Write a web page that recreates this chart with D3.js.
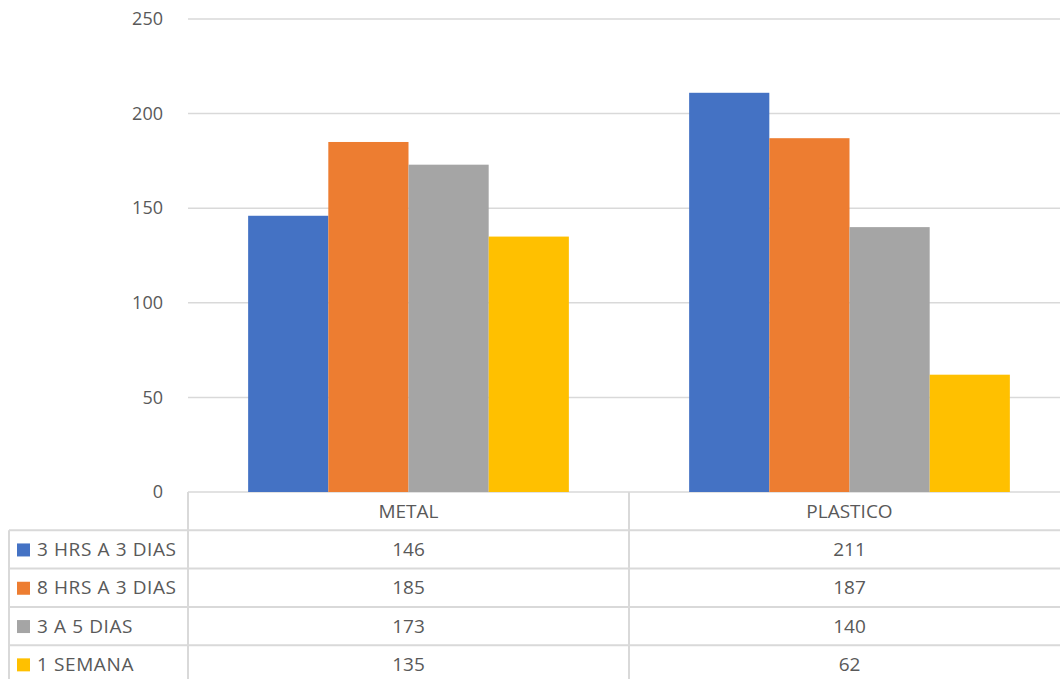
<!DOCTYPE html>
<html>
<head>
<meta charset="utf-8">
<script src="https://cdn.jsdelivr.net/npm/d3@7"></script>
<style>
body { margin: 0; background: #fff; }
text { font-family: "Open Sans", sans-serif; fill: #595959; }
</style>
</head>
<body>
<div id="chart"></div>
<script>
var categories = ['METAL', 'PLASTICO'];
var seriesNames = ['3 HRS A 3 DIAS', '8 HRS A 3 DIAS', '3 A 5 DIAS', '1 SEMANA'];
var seriesColors = ['#4472c4', '#ed7d31', '#a5a5a5', '#ffc000'];
var seriesValues = [
	[146, 211],
	[185, 187],
	[173, 140],
	[135, 62]
];
var yTicks = [0, 50, 100, 150, 200, 250];

window.onload = function(){
	var svg = d3.select('#chart').append('svg').attr('width', 1060).attr('height', 679);
	draw(svg);
}

function draw(svg){
	var left = 188, right = 1070, top = 19, bottom = 492;
	var rowH = 38.3;
	var axisFont = '18px';
	var tableFont = '19px';

	var x = d3.scaleBand().domain(categories).range([left, right]);
	var x1 = d3.scaleBand().domain(d3.range(seriesNames.length))
		.range([0, x.bandwidth()]).paddingOuter(0.75);
	var y = d3.scaleLinear().domain([0, 250]).range([bottom, top]);

	// gridlines
	svg.selectAll('line.grid').data(yTicks).enter().append('line')
	.attr('class', 'grid')
	.attr('x1', left).attr('x2', right)
	.attr('y1', function(d){ return y(d); })
	.attr('y2', function(d){ return y(d); })
	.attr('stroke', '#d9d9d9').attr('stroke-width', 1.5);

	var yAxis = svg.append('g').attr('transform', 'translate(' + (left - 25) + ',0)')
		.call(d3.axisLeft(y).tickValues(yTicks).tickSize(0).tickPadding(0));
	yAxis.select('.domain').remove();
	yAxis.selectAll('text').style('font-size', axisFont).attr('fill', '#595959')
		.style('font-family', '"Open Sans", sans-serif');

	// bars
	var groups = svg.selectAll('g.series').data(seriesValues).enter().append('g')
	.attr('fill', function(d, i){ return seriesColors[i]; });

	groups.each(function(vals, si){
		d3.select(this).selectAll('rect').data(vals).enter().append('rect')
		.attr('x', function(d, ci){ return x(categories[ci]) + x1(si); })
		.attr('width', x1.bandwidth())
		.attr('y', function(d){ return y(d); })
		.attr('height', function(d){ return bottom - y(d); });
	});

	// data table
	var tableLeft = 9;
	var tableBottom = bottom + rowH * 5;
	var lineColor = '#d9d9d9';

	// vertical lines
	var vx = [left, x('PLASTICO')];
	svg.selectAll('line.vcol').data(vx).enter().append('line')
	.attr('x1', function(d){ return d; }).attr('x2', function(d){ return d; })
	.attr('y1', bottom).attr('y2', tableBottom)
	.attr('stroke', lineColor).attr('stroke-width', 2);
	svg.append('line')
	.attr('x1', tableLeft).attr('x2', tableLeft)
	.attr('y1', bottom + rowH).attr('y2', tableBottom)
	.attr('stroke', lineColor).attr('stroke-width', 2);

	// horizontal lines
	svg.selectAll('line.hrow').data(d3.range(1, 5)).enter().append('line')
	.attr('x1', tableLeft).attr('x2', right)
	.attr('y1', function(d){ return bottom + d * rowH; })
	.attr('y2', function(d){ return bottom + d * rowH; })
	.attr('stroke', lineColor).attr('stroke-width', 2);

	// header row
	svg.selectAll('text.cat').data(categories).enter().append('text')
	.attr('x', function(d){ return x(d) + x.bandwidth() / 2; })
	.attr('y', bottom + rowH / 2)
	.attr('dy', '0.35em').attr('text-anchor', 'middle')
	.style('font-size', tableFont)
	.text(function(d){ return d; });

	// series rows
	var rows = svg.selectAll('g.row').data(seriesNames).enter().append('g')
	.attr('transform', function(d, i){ return 'translate(0,' + (bottom + rowH * (i + 1)) + ')'; });

	rows.append('rect')
	.attr('x', 17).attr('y', rowH / 2 - 6)
	.attr('width', 13).attr('height', 13)
	.attr('fill', function(d, i){ return seriesColors[i]; });

	rows.append('text')
	.attr('x', 37).attr('y', rowH / 2).attr('dy', '0.35em')
	.style('font-size', tableFont).style('letter-spacing', '0.6px')
	.text(function(d){ return d; });

	rows.each(function(name, si){
		d3.select(this).selectAll('text.val').data(seriesValues[si]).enter().append('text')
		.attr('x', function(d, ci){ return x(categories[ci]) + x.bandwidth() / 2; })
		.attr('y', rowH / 2).attr('dy', '0.35em').attr('text-anchor', 'middle')
		.style('font-size', tableFont)
		.text(function(d){ return d; });
	});
}
</script>
</body>
</html>
